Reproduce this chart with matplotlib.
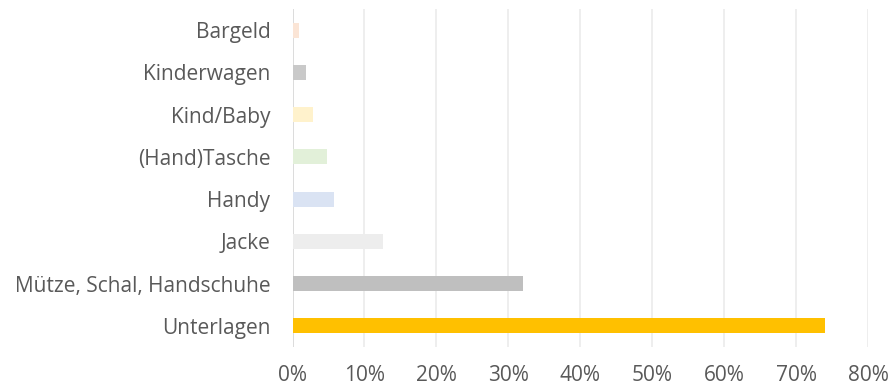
import matplotlib
matplotlib.use("Agg")
import matplotlib.pyplot as plt
from matplotlib.ticker import FuncFormatter, MultipleLocator

categories = ["Unterlagen", "Mütze, Schal, Handschuhe", "Jacke", "Handy",
              "(Hand)Tasche", "Kind/Baby", "Kinderwagen", "Bargeld"]
values = [74.0, 32.0, 12.6, 5.8, 4.8, 2.85, 1.9, 0.85]
colors = ["#FFC000", "#BFBFBF", "#EDEDED", "#DAE3F3",
          "#E2F0D9", "#FFF2CC", "#C9C9C9", "#FBE5D6"]

plt.rcParams['font.family'] = ['Open Sans', 'DejaVu Sans']

fig = plt.figure(figsize=(8.95, 3.87), dpi=100)
ax = fig.add_axes([292.5/895, 1-347/387, (868-292.5)/895, (347-9)/387])

ypos = list(range(len(categories)))
ax.barh(ypos, values, height=0.35, color=colors, zorder=3)

ax.set_xlim(0, 80)
ax.set_ylim(-0.5, len(categories) - 0.5)
ax.xaxis.set_major_locator(MultipleLocator(10))
ax.xaxis.set_major_formatter(FuncFormatter(lambda v, p: f"{v:.0f}%"))
ax.set_yticks(ypos)
ax.set_yticklabels(categories)

ax.grid(axis="x", color="#EBEBEB", linewidth=1.2, zorder=0)
ax.axvline(0, color="#D9D9D9", linewidth=1.2, zorder=2)
for s in ax.spines.values():
    s.set_visible(False)
ax.tick_params(axis="both", length=0, colors="#595959", labelsize=15)
ax.tick_params(axis="x", pad=13)
ax.tick_params(axis="y", pad=16)

fig.savefig("out.png", dpi=100)
